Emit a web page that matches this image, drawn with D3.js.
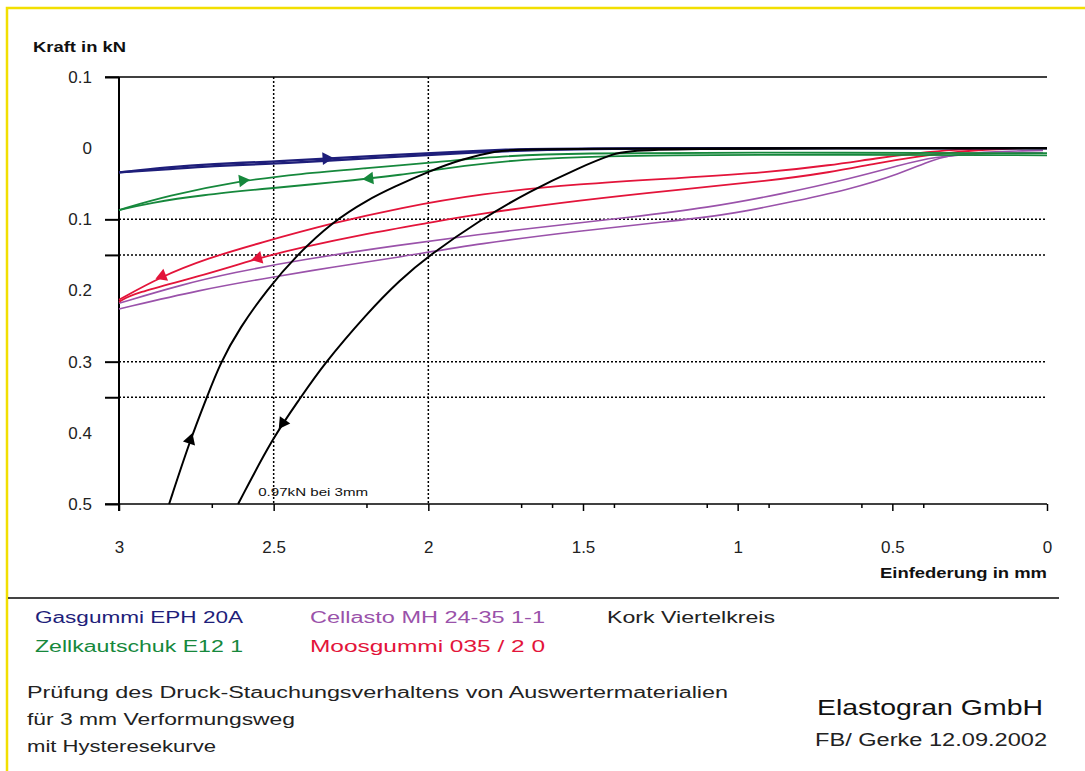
<!DOCTYPE html>
<html>
<head>
<meta charset="utf-8">
<script src="https://cdn.jsdelivr.net/npm/d3@7"></script>
<style>
  body { margin: 0; background: #fff; }
  svg text { font-family: "Liberation Sans", Arial, sans-serif; }
</style>
</head>
<body>
<div id="chart"></div>
<script>
// axis values
var xLabels = [3, 2.5, 2, 1.5, 1, 0.5, 0];
var xMinorTicks = [2.7, 2.2, 1.7, 1.6, 1.4, 1.1, 0.9, 0.6, 0.4];
var xGrid = [2.5, 2];
var yLabels = [-0.1, 0, 0.1, 0.2, 0.3, 0.4, 0.5];
var yTicks = [-0.1, 0.1, 0.15, 0.3, 0.35, 0.5];
var yGrid = [0.1, 0.15, 0.3, 0.35];

// Einfederung (mm), Kraft (kN) - each material has two hysteresis branches
var korkLeft = [[2.838,0.5],[2.77,0.41],[2.716,0.35],[2.673,0.302],[2.609,0.252],[2.522,0.199],[2.425,0.150],[2.308,0.103],[2.198,0.073],[2.114,0.055],[1.995,0.032],[1.888,0.015],[1.778,0.004],[1.70,0],[0,0]];
var korkRight = [[2.615,0.5],[2.502,0.406],[2.415,0.352],[2.341,0.305],[2.198,0.232],[2.092,0.185],[1.995,0.150],[1.833,0.101],[1.671,0.060],[1.51,0.027],[1.403,0.008],[1.33,0],[0,0]];
var gasUpper = [[3,0.034],[2.85,0.027],[2.7,0.022],[2.5,0.019],[2.35,0.015],[2.1,0.009],[1.9,0.005],[1.75,0.002],[1.6,0],[0,0]];
var gasLower = [[3,0.034],[2.85,0.030],[2.7,0.025],[2.5,0.022],[2.35,0.018],[2.1,0.012],[1.9,0.007],[1.7,0.003],[1.45,0.001],[1.3,0],[0,0]];
var zellUpper = [[3,0.087],[2.845,0.067],[2.609,0.046],[2.415,0.036],[2.198,0.028],[1.985,0.02],[1.768,0.011],[1.51,0.007],[1.025,0.006],[0,0.007]];
var zellLower = [[3,0.087],[2.9,0.077],[2.738,0.066],[2.502,0.056],[2.308,0.048],[2.092,0.038],[1.875,0.024],[1.7,0.016],[1.45,0.011],[1.025,0.009],[0,0.01]];
var moosUpper = [[3,0.213],[2.867,0.181],[2.716,0.155],[2.544,0.133],[2.308,0.105],[2.092,0.084],[1.833,0.064],[1.51,0.050],[1.186,0.042],[0.9,0.034],[0.7,0.024],[0.55,0.014],[0.42,0.007],[0.3,0.002],[0.15,0],[0.07,0]];
var moosLower = [[3,0.216],[2.955,0.204],[2.738,0.180],[2.554,0.155],[2.415,0.140],[2.198,0.120],[2.0,0.105],[1.833,0.092],[1.51,0.073],[1.186,0.058],[0.9,0.046],[0.7,0.034],[0.55,0.021],[0.42,0.012],[0.3,0.005],[0.15,0.001],[0.07,0]];
var cellUpper = [[3,0.218],[2.8,0.192],[2.631,0.175],[2.415,0.157],[2.092,0.136],[1.833,0.121],[1.616,0.110],[1.348,0.097],[1.1,0.084],[0.853,0.064],[0.637,0.043],[0.475,0.024],[0.369,0.012],[0.2,0.007],[0.013,0.006]];
var cellLower = [[3,0.226],[2.738,0.199],[2.502,0.181],[2.308,0.167],[2.092,0.153],[1.833,0.134],[1.51,0.116],[1.241,0.104],[1.025,0.093],[0.853,0.078],[0.637,0.058],[0.475,0.036],[0.369,0.016],[0.28,0.006],[0.013,0.003]];

var series = [
  {name: "Cellasto MH 24-35 1-1", color: "#9a52aa", width: 1.6, branches: [cellUpper, cellLower]},
  {name: "Moosgummi 035 / 2 0", color: "#e3143a", width: 1.8, branches: [moosUpper, moosLower]},
  {name: "Zellkautschuk E12 1", color: "#16883c", width: 1.8, branches: [zellUpper, zellLower]},
  {name: "Gasgummi EPH 20A", color: "#1e1e7a", width: 2.3, branches: [gasUpper, gasLower]},
  {name: "Kork Viertelkreis", color: "#000", width: 2, branches: [korkLeft, korkRight]}
];

// arrows on the branches: x position, +1 = along the array order
var arrows = [
  {branch: korkLeft, x: 2.77, dir: 1, color: "#000"},
  {branch: korkRight, x: 2.47, dir: -1, color: "#000"},
  {branch: gasUpper, x: 2.33, dir: 1, color: "#1e1e7a"},
  {branch: zellUpper, x: 2.6, dir: 1, color: "#16883c"},
  {branch: zellLower, x: 2.19, dir: -1, color: "#16883c"},
  {branch: moosUpper, x: 2.86, dir: -1, color: "#e3143a"},
  {branch: moosLower, x: 2.55, dir: -1, color: "#e3143a"}
];

var W = 1085, H = 771;
var svg = d3.select("#chart").append("svg").attr("width", W).attr("height", H);

var x = d3.scaleLinear().domain([3, 0]).range([119, 1047]);
var y = d3.scaleLinear().domain([-0.1, 0.5]).range([77, 504]);

// yellow frame
svg.append("rect").attr("x", 7).attr("y", 8).attr("width", 1110).attr("height", 800)
  .attr("fill", "none").attr("stroke", "#f2df00").attr("stroke-width", 2.5);

// dotted grid
svg.selectAll(".hgrid").data(yGrid).enter().append("line")
  .attr("x1", x(3)).attr("x2", x(0))
  .attr("y1", d => y(d)).attr("y2", d => y(d))
  .attr("stroke", "#000").attr("stroke-width", 1.5).attr("stroke-dasharray", "2,2");
svg.selectAll(".vgrid").data(xGrid).enter().append("line")
  .attr("x1", d => x(d)).attr("x2", d => x(d))
  .attr("y1", y(-0.1)).attr("y2", y(0.5))
  .attr("stroke", "#000").attr("stroke-width", 1.5).attr("stroke-dasharray", "2,2");

// frame lines
svg.append("line").attr("x1", 105).attr("x2", x(0)).attr("y1", y(-0.1)).attr("y2", y(-0.1))
  .attr("stroke", "#000").attr("stroke-width", 1.5);
svg.append("line").attr("x1", 105).attr("x2", x(0)).attr("y1", y(0.5)).attr("y2", y(0.5))
  .attr("stroke", "#000").attr("stroke-width", 1.5);
svg.append("line").attr("x1", x(3)).attr("x2", x(3)).attr("y1", y(-0.1)).attr("y2", y(0.5) + 7)
  .attr("stroke", "#000").attr("stroke-width", 2);

// y axis: tick marks and labels
var yTickAxis = svg.append("g").attr("transform", "translate(" + x(3) + ",0)")
  .call(d3.axisLeft(y).tickValues(yTicks).tickSize(14).tickFormat(""));
yTickAxis.select(".domain").remove();
yTickAxis.selectAll("line").attr("stroke-width", 2);

var yLabelAxis = svg.append("g").attr("transform", "translate(92,0)")
  .call(d3.axisLeft(y).tickValues(yLabels).tickSize(0).tickPadding(0)
    .tickFormat(d => String(Math.abs(d))));
yLabelAxis.select(".domain").remove();
yLabelAxis.selectAll("text").attr("font-size", 17).attr("font-family", "Liberation Sans, Arial")
  .attr("fill", "#222");

// x axis
var xAxis = svg.append("g").attr("transform", "translate(0," + y(0.5) + ")")
  .call(d3.axisBottom(x).tickValues(xLabels).tickSize(7).tickPadding(30)
    .tickFormat(d => String(d)));
xAxis.select(".domain").remove();
xAxis.selectAll("line").attr("stroke-width", 1.5);
xAxis.selectAll("text").attr("font-size", 17).attr("font-family", "Liberation Sans, Arial")
  .attr("fill", "#222");

var xMinor = svg.append("g").attr("transform", "translate(0," + y(0.5) + ")")
  .call(d3.axisBottom(x).tickValues(xMinorTicks).tickSize(4).tickFormat(""));
xMinor.select(".domain").remove();
xMinor.selectAll("line").attr("stroke-width", 1.5);

// curves
var line = d3.line().x(d => x(d[0])).y(d => y(d[1])).curve(d3.curveBasis);
series.forEach(function(s) {
  s.branches.forEach(function(b) {
    svg.append("path").datum(b).attr("d", line)
      .attr("fill", "none").attr("stroke", s.color).attr("stroke-width", s.width);
  });
});

// arrows
function pointAt(branch, xv) {
  for (var i = 0; i < branch.length - 1; i++) {
    var a = branch[i], b = branch[i + 1];
    if ((xv <= a[0] && xv >= b[0])) {
      var t = (a[0] - xv) / (a[0] - b[0]);
      return {v: a[1] + t * (b[1] - a[1]), a: a, b: b};
    }
  }
  return null;
}
arrows.forEach(function(ar) {
  var p = pointAt(ar.branch, ar.x);
  if (!p) return;
  var dx = x(p.b[0]) - x(p.a[0]), dy = y(p.b[1]) - y(p.a[1]);
  var ang = Math.atan2(dy * ar.dir, dx * ar.dir) * 180 / Math.PI;
  svg.append("path")
    .attr("d", d3.symbol().type(d3.symbolTriangle).size(70))
    .attr("transform", "translate(" + x(ar.x) + "," + y(p.v) + ") rotate(" + (ang + 90) + ")")
    .attr("fill", ar.color);
});

// text helper
function addText(tx, ty, str, size, width, color, weight, anchor) {
  var t = svg.append("text").attr("x", tx).attr("y", ty)
    .attr("dominant-baseline", "central")
    .attr("font-size", size).attr("fill", color || "#222")
    .attr("font-weight", weight || "normal")
    .attr("text-anchor", anchor || "start")
    .text(str);
  if (width) t.attr("textLength", width).attr("lengthAdjust", "spacingAndGlyphs");
  return t;
}

addText(33, 46, "Kraft in kN", 15, 93, "#111", "bold");
addText(880, 573, "Einfederung in mm", 14, 167, "#111", "bold");
addText(x(2.55), y(0.483), "0.97kN bei 3mm", 11, 110, "#111");

// separator
svg.append("line").attr("x1", 8).attr("x2", 1059).attr("y1", 598).attr("y2", 598)
  .attr("stroke", "#444").attr("stroke-width", 2);

// legend (coloured text only)
var legendPos = [[35, 617], [310, 617], [35, 646], [310, 646], [607, 617]];
var legendOrder = ["Gasgummi EPH 20A", "Cellasto MH 24-35 1-1", "Zellkautschuk E12 1", "Moosgummi 035 / 2 0", "Kork Viertelkreis"];
var legendWidth = [208, 235, 208, 235, 168];
legendOrder.forEach(function(n, i) {
  var s = series.find(d => d.name === n);
  addText(legendPos[i][0], legendPos[i][1], n, 16, legendWidth[i], s.color === "#000" ? "#222" : s.color);
});

addText(27, 692, "Prüfung des Druck-Stauchungsverhaltens  von Auswertermaterialien", 16, 701, "#222");
addText(27, 719, "für 3 mm Verformungsweg", 16, 268, "#222");
addText(27, 746, "mit Hysteresekurve", 16, 189, "#222");

addText(817, 707, "Elastogran GmbH", 22, 226, "#111");
addText(815, 740, "FB/ Gerke 12.09.2002", 18, 232, "#222");
</script>
</body>
</html>
